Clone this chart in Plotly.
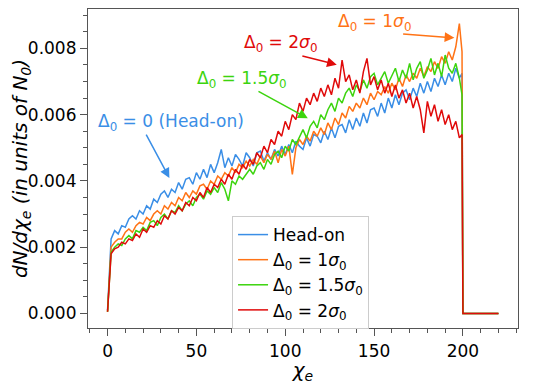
import plotly.graph_objects as go

# chi_e bin positions (step 2 up to the cut-off), spectrum drops to zero at 200
chi = list(range(0, 200, 2)) + [199.5]
chi_tail = [200, 220]
tail_vals = [0.0, 0.0]

# dN/dchi_e, in units of 1e-4
headon_e4 = [
    1, 22.5, 25, 24, 26.5, 26, 28.5, 29.5, 28.5, 31,
    30, 32.5, 31.5, 34.5, 33.5, 36, 37, 35, 37.5, 36.5,
    39.5, 37.5, 40.5, 41, 39, 42.5, 40.5, 43.5, 41, 45,
    42.5, 45.5, 49.5, 44, 47, 44.5, 48, 46.5, 44.5, 48.5,
    47, 44.5, 48.5, 49, 46, 48.5, 46.5, 49.5, 47.5, 50.5,
    48, 51, 48.5, 52, 50.5, 49.5, 53, 50.5, 54, 53.5,
    51.5, 55, 52.5, 56, 53, 56.5, 57, 54.5, 58.5, 55.5,
    59, 56.5, 60.5, 57.5, 61.5, 62, 59.5, 63.5, 60.5, 65,
    62, 66, 63, 66.5, 67.5, 64.5, 68, 65.5, 69.5, 66.5,
    70, 67, 71, 68.5, 72, 69, 72.5, 70, 74, 71,
    72.5,
]
d1_e4 = [
    0.5, 20, 21.5, 22.5, 22.5, 24.5, 25.5, 24.5, 26.5, 27.5,
    27, 29, 28, 30, 31, 30, 32.5, 31.5, 33.5, 32.5,
    35, 34, 36.5, 35, 37, 36, 38.5, 39, 37.5, 40,
    39, 41.5, 40.5, 42.5, 41.5, 44, 42.5, 45, 44, 46,
    44.5, 46.5, 45, 47.5, 45.5, 48, 46.5, 49, 45.5, 49.5,
    47.5, 50.5, 42, 50, 52.5, 51, 53.5, 52, 55, 53.5,
    56, 54, 57.5, 55.5, 59, 57, 60.5, 59, 62.5, 61,
    63.5, 62, 65, 63, 66.5, 64.5, 67, 66, 68.5, 66.5,
    69.5, 67.5, 71, 68.5, 72, 70, 72.5, 71, 74, 71.5,
    74.5, 73, 76, 74, 77.5, 75.5, 79, 76.5, 80.5, 87.5,
    79,
]
d15_e4 = [
    0.5, 18.5, 20, 21, 20.5, 22.5, 23.5, 22.5, 25, 24.5,
    26, 25, 27.5, 28, 26.5, 29, 30, 28.5, 31, 30.5,
    32.5, 31, 33, 34, 32.5, 35, 36, 34.5, 37, 36,
    38, 36.5, 39.5, 37.5, 34, 40, 39, 41.5, 40.5, 42,
    43.5, 42, 44.5, 45.5, 43.5, 46.5, 45, 48, 49, 47,
    50.5, 49, 52.5, 51, 53.5, 55.5, 53, 56.5, 58, 56,
    60, 58.5, 61.5, 63.5, 61, 65, 63.5, 66.5, 68, 65.5,
    69, 67, 70.5, 68, 71.5, 72.5, 69, 71, 73, 69.5,
    72, 74, 70, 73.5, 71, 75.5, 70.5, 74, 76, 71,
    73.5, 77, 72, 75.5, 71.5, 78, 74, 72.5, 75.5, 71,
    66,
]
d2_e4 = [
    0.5, 18, 19.5, 20, 21.5, 21, 22.5, 22, 24, 23,
    25.5, 24.5, 26.5, 26, 28, 27, 29.5, 28.5, 31, 30,
    32, 31, 33.5, 32.5, 35, 34, 36.5, 35, 38, 36.5,
    39, 38, 40.5, 39, 42, 40.5, 43.5, 42, 45, 43.5,
    46.5, 45, 48.5, 47, 50.5, 48.5, 52.5, 51, 55, 53.5,
    58, 55.5, 60, 58.5, 63.5, 61, 65, 63, 66.5, 64,
    68, 65.5, 69, 66, 71, 68, 76.5, 70, 72, 67.5,
    70.5, 66.5, 73, 77, 69, 71.5, 67.5, 70.5, 66.5, 69.5,
    65.5, 69, 65, 67.5, 63.5, 66.5, 62, 65.5, 61.5, 54.5,
    64, 59.5, 63, 58, 61.5, 57, 60, 55.5, 58, 53,
    54,
]

names = ["Head-on", "Δ<sub>0</sub> = 1<i>σ</i><sub>0</sub>",
         "Δ<sub>0</sub> = 1.5<i>σ</i><sub>0</sub>", "Δ<sub>0</sub> = 2<i>σ</i><sub>0</sub>"]
colors = ["#3a8ee6", "#ff7316", "#3cd40e", "#e00a0a"]
series = [headon_e4, d1_e4, d15_e4, d2_e4]

fig = go.Figure()
for name, col, vals in zip(names, colors, series):
    fig.add_trace(go.Scatter(
        x=chi + chi_tail,
        y=[v * 1e-4 for v in vals] + tail_vals,
        mode="lines", name=name,
        line=dict(color=col, width=1.5),
    ))

# labels + arrows (text and arrow drawn separately)
labels = [
    ("Δ<sub>0</sub> = 0 (Head-on)", 35.5, 0.00577, colors[0], 21.3, 0.00544, 34.8, 0.00409),
    ("Δ<sub>0</sub> = 1.5<i>σ</i><sub>0</sub>", 75.5, 0.00706, colors[2], 84.1, 0.00673, 112.7, 0.00589),
    ("Δ<sub>0</sub> = 2<i>σ</i><sub>0</sub>", 97.5, 0.00814, colors[3], 108.8, 0.00778, 129.0, 0.00751),
    ("Δ<sub>0</sub> = 1<i>σ</i><sub>0</sub>", 150.5, 0.00877, colors[1], 165.5, 0.00844, 195.2, 0.00832),
]
for txt, tx, ty, col, x0, y0, x1, y1 in labels:
    fig.add_annotation(x=tx, y=ty, text=txt, showarrow=False,
                       font=dict(color=col, size=17), xanchor="center", yanchor="middle")
    fig.add_annotation(x=x1, y=y1, ax=x0, ay=y0, axref="x", ayref="y",
                       text="", showarrow=True, arrowhead=2, arrowsize=1.3,
                       arrowwidth=1.5, arrowcolor=col)

axis_col = "#555555"
fig.update_xaxes(
    range=[-11, 231], dtick=50, tick0=0, automargin=False,
    ticks="outside", ticklen=7, tickcolor=axis_col,
    minor=dict(dtick=10, ticks="outside", ticklen=4, tickcolor=axis_col),
    showline=True, linecolor=axis_col, linewidth=1.2, mirror=True,
    showgrid=False, zeroline=False,
    title=dict(text="<i>χ<sub>e</sub></i>", standoff=2),
)
fig.update_yaxes(
    range=[-0.00044, 0.00919], dtick=0.002, tick0=0, tickformat=".3f", automargin=False,
    ticks="outside", ticklen=7, tickcolor=axis_col,
    minor=dict(dtick=0.0005, ticks="outside", ticklen=4, tickcolor=axis_col),
    showline=True, linecolor=axis_col, linewidth=1.2, mirror=True,
    showgrid=False, zeroline=False,
    title=dict(text="<i>dN/dχ<sub>e</sub> (in units of N<sub>0</sub>)</i>", standoff=4),
)
# page body keeps its default 8px margin, so the figure is 8px smaller
fig.update_layout(
    width=537, height=376,
    margin=dict(l=80, r=27, t=1, b=56),
    plot_bgcolor="white", paper_bgcolor="white",
    font=dict(family="DejaVu Sans", size=17, color="black"),
    legend=dict(x=0.335, y=0.351, xanchor="left", yanchor="top",
                bgcolor="white", bordercolor="#cccccc", borderwidth=1,
                font=dict(size=17)),
    showlegend=True,
)

fig.write_html("out.html")
